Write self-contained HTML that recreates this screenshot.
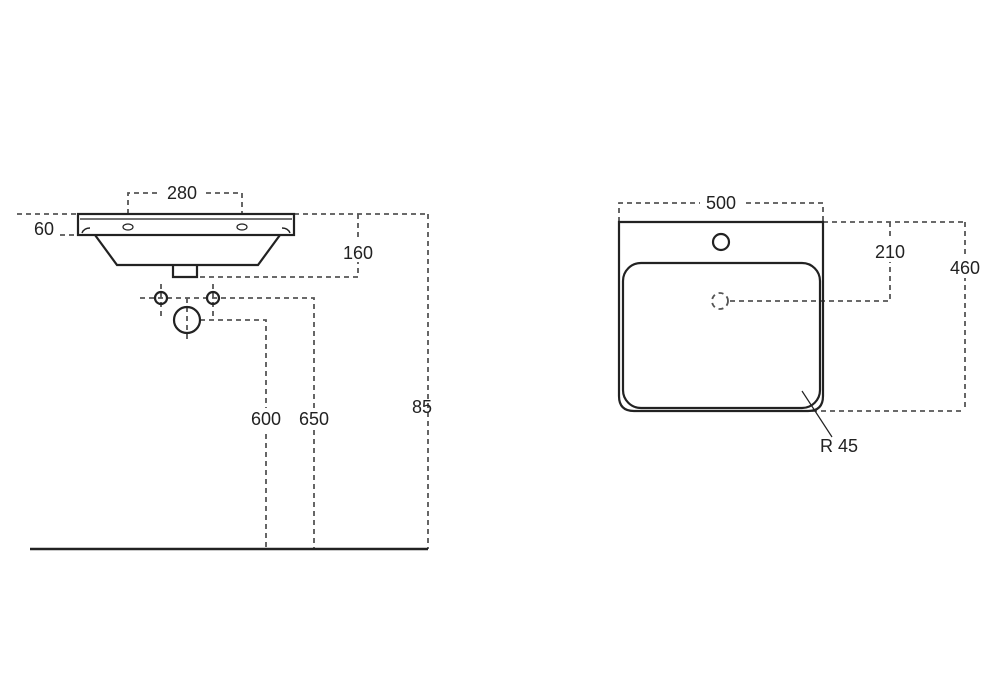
<!DOCTYPE html>
<html><head><meta charset="utf-8"><style>
html,body{margin:0;padding:0;background:#fff;}
svg{display:block;}
text{font-family:"Liberation Sans",sans-serif;font-size:18px;fill:#222;}
</style></head><body>
<svg width="997" height="700" viewBox="0 0 997 700" xmlns="http://www.w3.org/2000/svg">
<g fill="none" stroke="#555" stroke-width="1.8" stroke-dasharray="5,4">
  <line x1="17" y1="214" x2="78" y2="214"/>
  <line x1="60" y1="235" x2="78" y2="235"/>
  <polyline points="128,214 128,193 160,193"/>
  <polyline points="206,193 242,193 242,214"/>
  <line x1="294" y1="214" x2="428" y2="214"/>
  <polyline points="358,214 358,277 197,277"/>
  <line x1="428" y1="214" x2="428" y2="549"/>
  <polyline points="140,298 314,298 314,549"/>
  <polyline points="200,320 266,320 266,549"/>
  <line x1="161" y1="284" x2="161" y2="316"/>
  <line x1="213" y1="284" x2="213" y2="316"/>
  <line x1="187" y1="298" x2="187" y2="342"/>
  <polyline points="619,222 619,203 700,203"/>
  <polyline points="746,203 823,203 823,222"/>
  <line x1="823" y1="222" x2="965" y2="222"/>
  <polyline points="890,222 890,301 728,301"/>
  <line x1="965" y1="222" x2="965" y2="411"/>
  <line x1="812" y1="411" x2="965" y2="411"/>
  <circle cx="720" cy="301" r="8"/>
</g>
<g fill="#fff">
  <rect x="338" y="240" width="40" height="22"/>
  <rect x="870" y="240" width="40" height="22"/>
  <rect x="945" y="256" width="40" height="22"/>
  <rect x="248" y="408" width="36" height="22"/>
  <rect x="296" y="408" width="36" height="22"/>
</g>
<g fill="none" stroke="#222" stroke-width="2.2">
  <rect x="78" y="214" width="216" height="21"/>
  <line x1="80" y1="219" x2="292" y2="219" stroke-width="1.2"/>
  <polyline points="95,235 117,265 258,265 280,235"/>
  <polyline points="173,265 173,277 197,277 197,265"/>
  <path d="M82,233 q2,-5 8,-5 M290,233 q-2,-5 -8,-5" stroke-width="1.5"/>
  <ellipse cx="128" cy="227" rx="5" ry="3" stroke-width="1.2"/>
  <ellipse cx="242" cy="227" rx="5" ry="3" stroke-width="1.2"/>
  <circle cx="161" cy="298" r="6"/>
  <circle cx="213" cy="298" r="6"/>
  <circle cx="187" cy="320" r="13"/>
  <line x1="30" y1="549" x2="428" y2="549" stroke-width="2.5"/>
  <path d="M619,222 L823,222 L823,396 Q823,411 808,411 L634,411 Q619,411 619,396 Z"/>
  <rect x="623" y="263" width="197" height="145" rx="18"/>
  <circle cx="721" cy="242" r="8"/>
  <line x1="802" y1="391" x2="832" y2="437" stroke-width="1.2"/>
</g>
<text x="182" y="199" text-anchor="middle">280</text>
<text x="34" y="235">60</text>
<text x="358" y="259" text-anchor="middle">160</text>
<text x="266" y="425" text-anchor="middle">600</text>
<text x="314" y="425" text-anchor="middle">650</text>
<text x="412" y="413">85</text>
<text x="721" y="209" text-anchor="middle">500</text>
<text x="890" y="258" text-anchor="middle">210</text>
<text x="965" y="274" text-anchor="middle">460</text>
<text x="820" y="452">R 45</text>
</svg>
</body></html>
